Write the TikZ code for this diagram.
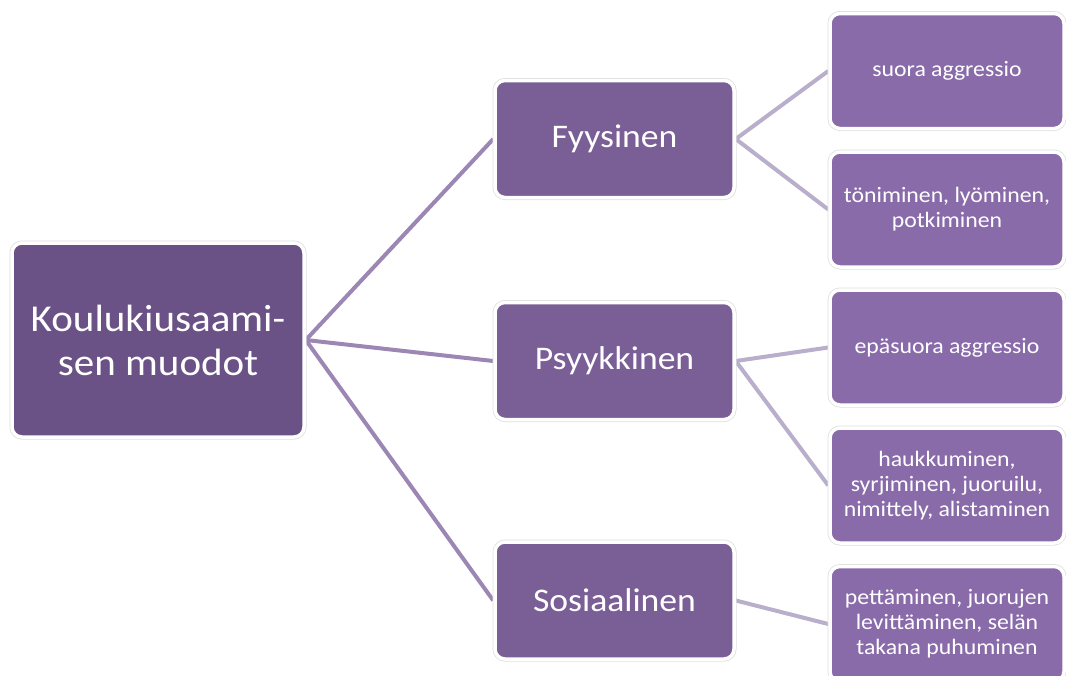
\documentclass[tikz,border=0pt]{standalone}
\usepackage{fontspec}
\setmainfont{Carlito}[FakeStretch=1.08]
\usetikzlibrary{backgrounds}
\definecolor{rootfill}{HTML}{6A5186}
\definecolor{midfill}{HTML}{7A5F97}
\definecolor{leaffill}{HTML}{8A6BAA}
\definecolor{linkA}{HTML}{9C87B4}
\definecolor{linkB}{HTML}{B9AECB}
\tikzset{
  box/.style={rectangle, rounded corners=10pt, draw=white, line width=3.5pt,
    preaction={draw=black!13, line width=5pt},
    text=white, align=center, inner sep=0pt},
  rootbox/.style={box, fill=rootfill, minimum width=292pt, minimum height=194pt,
    font=\fontsize{38}{44}\selectfont},
  midbox/.style={box, fill=midfill, minimum width=239pt, minimum height=117pt,
    font=\fontsize{33}{38}\selectfont},
  leafbox/.style={box, fill=leaffill, minimum width=234pt, minimum height=115pt,
    font=\fontsize{22}{25}\selectfont},
  linka/.style={draw=linkA, line width=4pt},
  linkb/.style={draw=linkB, line width=4pt},
}
\begin{document}
\begin{tikzpicture}[x=1pt,y=-1pt]
\useasboundingbox (0,0) rectangle (1066,675);
\node[rootbox] (root) at (158,340) {Koulukiusaami-\\sen muodot};
\node[midbox] (fy) at (614.5,139) {Fyysinen};
\node[midbox] (ps) at (614.5,361) {Psyykkinen};
\node[midbox] (so) at (614.5,600.5) {Sosiaalinen};
\node[leafbox] (l1) at (947,71) {suora aggressio};
\node[leafbox] (l2) at (947,209.5) {töniminen, lyöminen,\\potkiminen};
\node[leafbox] (l3) at (947,347.5) {epäsuora aggressio};
\node[leafbox] (l4) at (947,485.5) {haukkuminen,\\syrjiminen, juoruilu,\\nimittely, alistaminen};
\node[leafbox] (l5) at (947,624) {pettäminen, juorujen\\levittäminen, selän\\takana puhuminen};
\begin{scope}[on background layer]
\draw[linka] (root.east) -- (fy.west);
\draw[linka] (root.east) -- (ps.west);
\draw[linka] (root.east) -- (so.west);
\draw[linkb] (fy.east) -- (l1.west);
\draw[linkb] (fy.east) -- (l2.west);
\draw[linkb] (ps.east) -- (l3.west);
\draw[linkb] (ps.east) -- (l4.west);
\draw[linkb] (so.east) -- (l5.west);
\end{scope}
\end{tikzpicture}
\end{document}
